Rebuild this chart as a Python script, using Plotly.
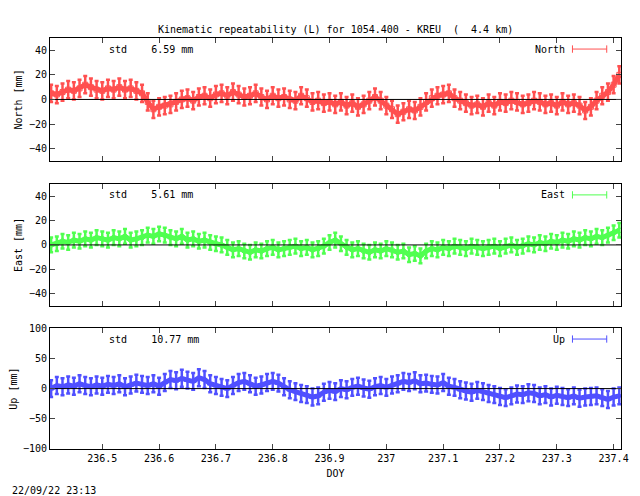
import plotly.graph_objects as go

doy = [round(236.41 + 0.01*i, 2) for i in range(101)]
north = [5,4,6,8,7,9,12,10,8,7, 9,8,10,8,9,7,5,-2,-8,-6, -5,-4,-2,0,1,-1,2,3,1,4,
         5,3,6,4,2,3,5,2,0,3, 1,2,0,-1,3,1,-2,-1,-3,-2, -4,-2,-5,-3,-6,-4,-1,2,-1,-5,
         -8,-12,-10,-8,-9,-6,-2,1,3,4, 5,1,-1,-3,-5,-4,-6,-3,-5,-2, -3,-1,-2,-4,-3,-1,-2,-4,-3,-5,
         -2,-4,-3,-5,-9,-6,-1,3,6,12, 20]
east = [0,1,3,2,4,3,5,4,6,5, 4,6,5,7,4,5,6,8,7,9, 8,6,5,7,4,5,3,4,2,1,
        0,-2,-4,-3,-5,-6,-4,-5,-3,-2, -4,-3,-2,-1,-3,-2,-4,-3,-1,2, 4,1,-2,-4,-3,-5,-6,-4,-5,-3,
        -4,-6,-5,-8,-7,-9,-5,-3,-4,-2, -3,-1,-2,-3,-1,-2,-3,-2,-1,-3, -1,0,-2,-1,1,0,2,1,3,2,
        4,3,5,4,6,5,7,6,8,10,12]
up = [0,5,3,6,4,8,5,3,6,4, 7,5,8,3,6,9,7,5,8,4, 10,15,13,17,14,12,18,15,8,5,
      2,0,5,10,12,8,4,6,10,12, 9,3,-2,-5,-8,-10,-14,-12,-6,-3, -5,0,-2,2,4,1,-1,3,5,2,
      6,8,12,10,13,8,9,7,6,10, 4,2,-2,-4,-6,-3,-5,-8,-10,-13, -15,-12,-9,-10,-7,-8,-12,-10,-14,-11,
      -13,-15,-12,-16,-14,-13,-12,-15,-18,-14, -12]
errs = {"North": 7, "East": 6, "Up": 14}
stds = {"North": "6.59", "East": "5.61", "Up": "10.77"}
titles = ["North [mm]", "East [mm]", "Up [mm]"]
yranges = [[-50, 50], [-50, 50], [-100, 100]]
ytickv = [[-40, -20, 0, 20, 40], [-40, -20, 0, 20, 40], [-100, -50, 0, 50, 100]]

F = "DejaVu Sans Mono"
fig = go.Figure()
series = [("North", north, "#ff5050", "square-open", "y", [0.701, 1.0]),
          ("East", east, "#50ff50", "diamond-open", "y2", [0.348, 0.645]),
          ("Up", up, "#5050ff", "triangle-up", "y3", [0.0, 0.294])]
lay = {}
for i, (name, vals, col, sym, ya, dom) in enumerate(series):
    xa = "x" if i == 0 else f"x{i+1}"
    fig.add_trace(go.Scatter(x=doy, y=vals, mode="markers+lines", name=name,
        xaxis=xa, yaxis=ya, showlegend=False,
        line=dict(color=col, width=5),
        marker=dict(color=col, symbol=sym, size=5, line=dict(color=col, width=1)),
        error_y=dict(type="constant", value=errs[name], color=col, thickness=2.5, width=2)))
    fig.add_trace(go.Scatter(x=[236.4, 237.42], y=[0, 0], mode="lines", showlegend=False,
        xaxis=xa, yaxis=ya, line=dict(color="black", width=1), hoverinfo="skip"))
    sfx = "" if i == 0 else str(i+1)
    lay["xaxis"+sfx] = dict(domain=[0, 1], range=[236.408, 237.413], anchor=ya,
        showticklabels=(i == 2), tickvals=[236.5+0.1*k for k in range(10)],
        ticktext=["236.5","236.6","236.7","236.8","236.9","237","237.1","237.2","237.3","237.4"],
        ticks="inside", ticklen=5, mirror="ticks", showline=True, linecolor="black",
        showgrid=False, zeroline=False, automargin=False,
        title=dict(text="DOY" if i == 2 else "", font=dict(size=10), standoff=6))
    lay["yaxis"+sfx] = dict(domain=dom, range=yranges[i], tickvals=ytickv[i], anchor=xa,
        ticks="inside", ticklen=5, mirror="ticks", showline=True, linecolor="black",
        showgrid=False, zeroline=False, automargin=False,
        title=dict(text=titles[i], standoff=4, font=dict(size=10)))
    fig.add_annotation(xref=xa+" domain", yref=ya+" domain", x=0.1, y=0.91,
        text=f"std    {stds[name]} mm", showarrow=False, xanchor="left", yanchor="middle",
        font=dict(family=F, size=10, color="black"))
    fig.add_annotation(xref=xa+" domain", yref=ya+" domain", x=0.905, y=0.91,
        text=name, showarrow=False, xanchor="right", yanchor="middle",
        font=dict(family=F, size=10, color="black"))
    fig.add_shape(type="line", xref=xa+" domain", yref=ya+" domain", x0=0.915, x1=0.975,
        y0=0.91, y1=0.91, line=dict(color=col, width=1))
    for xe in (0.915, 0.975):
        fig.add_shape(type="line", xref=xa+" domain", yref=ya+" domain", x0=xe, x1=xe,
            y0=0.88, y1=0.94, line=dict(color=col, width=1))

fig.add_annotation(xref="paper", yref="paper", x=0, xshift=-40, y=0, yshift=-49,
    text="22/09/22 23:13", showarrow=False, xanchor="left",
    font=dict(family=F, size=10, color="black"))
fig.add_annotation(xref="paper", yref="paper", x=0.5, y=1.0, yshift=16,
    text="Kinematic repeatability (L) for 1054.400 - KREU  (  4.4 km)", showarrow=False,
    font=dict(family=F, size=10, color="black"))
fig.update_layout(width=632, height=488, margin=dict(l=42, r=19, t=30, b=47, autoexpand=False),
    paper_bgcolor="white", plot_bgcolor="white",
    font=dict(family=F, size=10, color="black"), **lay)
fig.write_html("out.html")
